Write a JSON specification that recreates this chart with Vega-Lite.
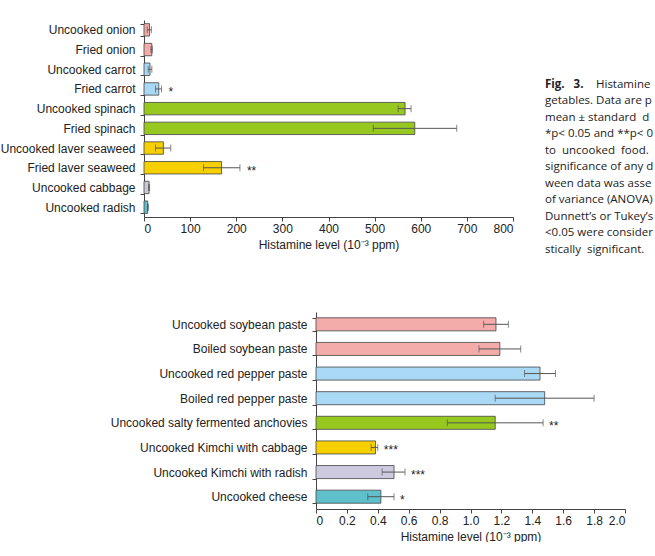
{
  "$schema": "https://vega.github.io/schema/vega-lite/v6.json",
  "padding": {"left": 0, "top": 14, "right": 0, "bottom": 0},
  "config": {
    "view": {"stroke": null},
    "font": "Liberation Sans",
    "axis": {
      "labelFont": "Liberation Sans",
      "labelFontSize": 12,
      "labelColor": "#222",
      "labelLimit": 260,
      "titleFont": "Liberation Sans",
      "titleFontSize": 12,
      "titleFontWeight": "normal",
      "titleColor": "#222",
      "domainColor": "#444",
      "tickColor": "#444",
      "tickSize": 4,
      "grid": false
    }
  },
  "bounds": "flush",
  "spacing": 95,
  "resolve": {"scale": {"color": "independent"}},
  "vconcat": [
    {
      "width": 369,
      "height": 197,
      "resolve": {"scale": {"x": "independent", "y": "independent"}},
      "layer": [
        {
          "data": {
            "values": [
              {"item": "Uncooked onion", "food": "onion", "mean": 12, "lo": 7, "hi": 16, "sig": ""},
              {"item": "Fried onion", "food": "onion", "mean": 17, "lo": 15, "hi": 18, "sig": ""},
              {"item": "Uncooked carrot", "food": "carrot", "mean": 13, "lo": 9, "hi": 17, "sig": ""},
              {"item": "Fried carrot", "food": "carrot", "mean": 32, "lo": 25, "hi": 38, "sig": "*"},
              {"item": "Uncooked spinach", "food": "spinach", "mean": 566, "lo": 551, "hi": 579, "sig": ""},
              {"item": "Fried spinach", "food": "spinach", "mean": 587, "lo": 497, "hi": 678, "sig": ""},
              {"item": "Uncooked laver seaweed", "food": "laver", "mean": 42, "lo": 25, "hi": 58, "sig": ""},
              {"item": "Fried laver seaweed", "food": "laver", "mean": 168, "lo": 129, "hi": 208, "sig": "**"},
              {"item": "Uncooked cabbage", "food": "cabbage", "mean": 11, "lo": 10, "hi": 12, "sig": ""},
              {"item": "Uncooked radish", "food": "radish", "mean": 8, "lo": 7.5, "hi": 9.5, "sig": ""}
            ]
          },
          "encoding": {
            "y": {
              "field": "item",
              "type": "nominal",
              "sort": null,
              "scale": {"paddingInner": 0.37, "paddingOuter": 0.185},
              "axis": {"title": null, "tickBand": "extent", "labelPadding": 5}
            }
          },
          "layer": [
            {
              "mark": {"type": "bar", "stroke": "#444", "strokeWidth": 0.8},
              "encoding": {
                "x": {
                  "field": "mean",
                  "type": "quantitative",
                  "title": "Histamine level (10⁻³ ppm)",
                  "scale": {"domain": [0, 800]},
                  "axis": {"values": [0, 100, 200, 300, 400, 500, 600, 700, 800], "titlePadding": 5}
                },
                "color": {
                  "field": "food",
                  "type": "nominal",
                  "scale": {
                    "domain": ["onion", "carrot", "spinach", "laver", "cabbage", "radish"],
                    "range": ["#f3aca9", "#a9d9f5", "#97c81f", "#f6d000", "#c9c9d1", "#5fbfcb"]
                  },
                  "legend": null
                }
              }
            },
            {
              "mark": {"type": "errorbar", "color": "#555", "thickness": 1, "ticks": {"size": 7}},
              "encoding": {
                "x": {"field": "lo", "type": "quantitative", "title": "Histamine level (10⁻³ ppm)"},
                "x2": {"field": "hi"}
              }
            },
            {
              "mark": {"type": "text", "align": "left", "baseline": "middle", "dx": 7, "dy": 3, "fontSize": 12, "color": "#222"},
              "encoding": {
                "x": {"field": "hi", "type": "quantitative", "title": "Histamine level (10⁻³ ppm)"},
                "text": {"field": "sig"}
              }
            }
          ]
        },
        {
          "encoding": {
            "x": {"datum": 0, "type": "quantitative", "scale": {"domain": [0, 1], "range": [401, 511]}, "axis": null},
            "y": {"field": "line", "type": "quantitative", "scale": {"domain": [1, 11], "range": [64.6, 229.6]}, "axis": null},
            "text": {"field": "text"}
          },
          "layer": [
            {
              "data": {"values": [{"line": 1, "text": "Fig.\u00a0\u00a0 3."}]},
              "mark": {"type": "text", "align": "left", "baseline": "middle", "font": "Open Sans", "fontSize": 11.5, "fontWeight": "bold", "color": "#222", "limit": 110, "ellipsis": " "}
            },
            {
              "data": {"values": [{"line": 1, "text": "Histamine levels in fresh or cooked ve-"}]},
              "mark": {"type": "text", "align": "left", "baseline": "middle", "dx": 51, "font": "Open Sans", "fontSize": 11.5, "color": "#222", "limit": 62, "ellipsis": " "}
            },
            {
              "data": {
                "values": [
                  {"line": 2, "text": "getables. Data are presented as"},
                  {"line": 3, "text": "mean ± standard\u00a0 deviation (SD)."},
                  {"line": 4, "text": "*p< 0.05 and **p< 0.01 compared"},
                  {"line": 5, "text": "to\u00a0 uncooked\u00a0 food.\u00a0 The statistical"},
                  {"line": 6, "text": "significance of any difference bet-"},
                  {"line": 7, "text": "ween data was assessed by analysis"},
                  {"line": 8, "text": "of variance (ANOVA) followed by"},
                  {"line": 9, "text": "Dunnett’s or Tukey’s test. Values of p"},
                  {"line": 10, "text": "<0.05 were considered to be stati-"},
                  {"line": 11, "text": "stically\u00a0 significant."}
                ]
              },
              "mark": {"type": "text", "align": "left", "baseline": "middle", "font": "Open Sans", "fontSize": 11.5, "color": "#222", "limit": 113, "ellipsis": " "}
            }
          ]
        }
      ]
    },
    {
      "width": 481,
      "height": 197,
      "data": {
        "values": [
          {"item": "Uncooked soybean paste", "food": "soybean", "mean": 1.165, "lo": 1.085, "hi": 1.245, "sig": ""},
          {"item": "Boiled soybean paste", "food": "soybean", "mean": 1.19, "lo": 1.055, "hi": 1.325, "sig": ""},
          {"item": "Uncooked red pepper paste", "food": "pepper", "mean": 1.45, "lo": 1.35, "hi": 1.55, "sig": ""},
          {"item": "Boiled red pepper paste", "food": "pepper", "mean": 1.48, "lo": 1.16, "hi": 1.8, "sig": ""},
          {"item": "Uncooked salty fermented anchovies", "food": "anchovy", "mean": 1.16, "lo": 0.85, "hi": 1.47, "sig": "**"},
          {"item": "Uncooked Kimchi with cabbage", "food": "kimchi_cabbage", "mean": 0.385, "lo": 0.357, "hi": 0.4, "sig": "***"},
          {"item": "Uncooked Kimchi with radish", "food": "kimchi_radish", "mean": 0.505, "lo": 0.428, "hi": 0.576, "sig": "***"},
          {"item": "Uncooked cheese", "food": "cheese", "mean": 0.42, "lo": 0.335, "hi": 0.505, "sig": "*"}
        ]
      },
      "encoding": {
        "y": {
          "field": "item",
          "type": "nominal",
          "sort": null,
          "scale": {"paddingInner": 0.47, "paddingOuter": 0.235},
          "axis": {"title": null, "tickBand": "extent", "labelPadding": 5, "offset": -172}
        }
      },
      "layer": [
        {
          "mark": {"type": "bar", "stroke": "#444", "strokeWidth": 0.8},
          "encoding": {
            "x": {
              "field": "mean",
              "type": "quantitative",
              "title": "Histamine level (10⁻³ ppm)",
              "scale": {"domain": [0, 2], "range": [172, 481]},
              "axis": {
                "values": [0, 0.2, 0.4, 0.6, 0.8, 1.0, 1.2, 1.4, 1.6, 1.8, 2.0],
                "labelExpr": "datum.value === 0 ? '0' : format(datum.value, '.1f')",
                "titlePadding": 5
              }
            },
            "color": {
              "field": "food",
              "type": "nominal",
              "scale": {
                "domain": ["soybean", "pepper", "anchovy", "kimchi_cabbage", "kimchi_radish", "cheese"],
                "range": ["#f3aca9", "#a9d9f5", "#97c81f", "#f6d000", "#cdcae0", "#5fbfcb"]
              },
              "legend": null
            }
          }
        },
        {
          "mark": {"type": "errorbar", "color": "#555", "thickness": 1, "ticks": {"size": 7}},
          "encoding": {
            "x": {"field": "lo", "type": "quantitative", "title": "Histamine level (10⁻³ ppm)"},
            "x2": {"field": "hi"}
          }
        },
        {
          "mark": {"type": "text", "align": "left", "baseline": "middle", "dx": 6, "dy": 3, "fontSize": 12, "color": "#222"},
          "encoding": {
            "x": {"field": "hi", "type": "quantitative", "title": "Histamine level (10⁻³ ppm)"},
            "text": {"field": "sig"}
          }
        }
      ]
    }
  ]
}
